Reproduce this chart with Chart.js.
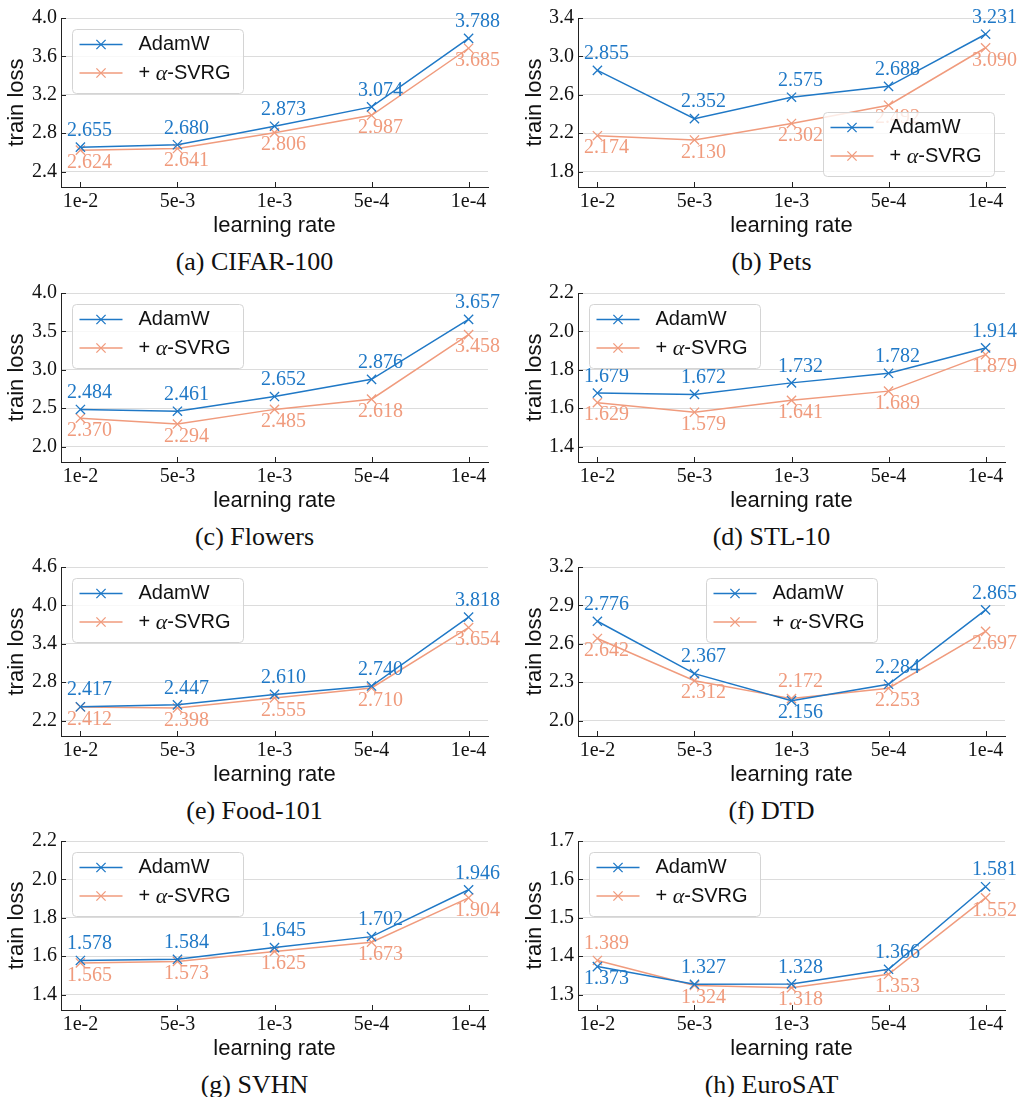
<!DOCTYPE html>
<html lang="en">
<head>
<meta charset="UTF-8">
<title>train loss vs learning rate</title>
<script src="https://cdn.jsdelivr.net/npm/chart.js@4.4.0/dist/chart.umd.min.js"></script>
<style>
  body { margin: 0; background: #fff; }
  #page { position: relative; width: 1021px; height: 1097px; overflow: hidden; }
  #page canvas { position: absolute; }
  .caption {
    position: absolute;
    transform: translate(-50%, -50%);
    font: 26px 'Liberation Serif', 'Times New Roman', serif;
    line-height: 1;
    white-space: nowrap;
    color: #111;
  }
</style>
</head>
<body>
<div id="page"></div>
<script>
const learningRates = ['1e-2', '5e-3', '1e-3', '5e-4', '1e-4'];
const seriesNames = ['AdamW', '+ α-SVRG'];

const cifar100Adamw = [2.655, 2.680, 2.873, 3.074, 3.788];
const cifar100Svrg  = [2.624, 2.641, 2.806, 2.987, 3.685];
const cifar100Ticks = [2.4, 2.8, 3.2, 3.6, 4.0];

const petsAdamw = [2.855, 2.352, 2.575, 2.688, 3.231];
const petsSvrg  = [2.174, 2.130, 2.302, 2.492, 3.090];
const petsTicks = [1.8, 2.2, 2.6, 3.0, 3.4];

const flowersAdamw = [2.484, 2.461, 2.652, 2.876, 3.657];
const flowersSvrg  = [2.370, 2.294, 2.485, 2.618, 3.458];
const flowersTicks = [2.0, 2.5, 3.0, 3.5, 4.0];

const stl10Adamw = [1.679, 1.672, 1.732, 1.782, 1.914];
const stl10Svrg  = [1.629, 1.579, 1.641, 1.689, 1.879];
const stl10Ticks = [1.4, 1.6, 1.8, 2.0, 2.2];

const food101Adamw = [2.417, 2.447, 2.610, 2.740, 3.818];
const food101Svrg  = [2.412, 2.398, 2.555, 2.710, 3.654];
const food101Ticks = [2.2, 2.8, 3.4, 4.0, 4.6];

const dtdAdamw = [2.776, 2.367, 2.156, 2.284, 2.865];
const dtdSvrg  = [2.642, 2.312, 2.172, 2.253, 2.697];
const dtdTicks = [2.0, 2.3, 2.6, 2.9, 3.2];

const svhnAdamw = [1.578, 1.584, 1.645, 1.702, 1.946];
const svhnSvrg  = [1.565, 1.573, 1.625, 1.673, 1.904];
const svhnTicks = [1.4, 1.6, 1.8, 2.0, 2.2];

const eurosatAdamw = [1.373, 1.327, 1.328, 1.366, 1.581];
const eurosatSvrg  = [1.389, 1.324, 1.318, 1.353, 1.552];
const eurosatTicks = [1.3, 1.4, 1.5, 1.6, 1.7];

const BLUE = '#1f78c6';
const ORANGE = '#f09b7d';
const SERIF = "'Liberation Serif', 'Times New Roman', serif";
const SANS = "'Liberation Sans', Arial, sans-serif";

const panels = [
  { caption: '(a) CIFAR-100', adamw: cifar100Adamw, svrg: cifar100Svrg, ticks: cifar100Ticks, min: 2.24, max: 4.0, legend: 'topleft' },
  { caption: '(b) Pets',      adamw: petsAdamw,     svrg: petsSvrg,     ticks: petsTicks,     min: 1.64, max: 3.4, legend: 'bottomright' },
  { caption: '(c) Flowers',   adamw: flowersAdamw,  svrg: flowersSvrg,  ticks: flowersTicks,  min: 1.8,  max: 4.0, legend: 'topleft' },
  { caption: '(d) STL-10',    adamw: stl10Adamw,    svrg: stl10Svrg,    ticks: stl10Ticks,    min: 1.32, max: 2.2, legend: 'topleft' },
  { caption: '(e) Food-101',  adamw: food101Adamw,  svrg: food101Svrg,  ticks: food101Ticks,  min: 1.96, max: 4.6, legend: 'topleft' },
  { caption: '(f) DTD',       adamw: dtdAdamw,      svrg: dtdSvrg,      ticks: dtdTicks,      min: 1.88, max: 3.2, legend: 'topcenter' },
  { caption: '(g) SVHN',      adamw: svhnAdamw,     svrg: svhnSvrg,     ticks: svhnTicks,     min: 1.32, max: 2.2, legend: 'topleft' },
  { caption: '(h) EuroSAT',   adamw: eurosatAdamw,  svrg: eurosatSvrg,  ticks: eurosatTicks,  min: 1.26, max: 1.7, legend: 'topleft' }
];

// grid geometry (px)
const colLeft = [0, 510];
const colWidth = [510, 511];
const yAxisWidth = [61, 68];
const padRight = [22, 16];
const yTitlePad = [3.5, 12];
const rowTop = [0, 275, 549, 823];
const CANVAS_H = 240, PLOT_TOP = 18, XAXIS_H = 53;

function drawCross(ctx, x, y, r) {
  ctx.beginPath();
  ctx.moveTo(x - r, y - r); ctx.lineTo(x + r, y + r);
  ctx.moveTo(x - r, y + r); ctx.lineTo(x + r, y - r);
  ctx.stroke();
}

function drawLegend(chart, where) {
  const ctx = chart.ctx, a = chart.chartArea;
  const W = 171, H = 64, r = 4;
  let x0 = a.left + 11, y0 = a.top + 11;
  if (where === 'bottomright') { x0 = a.right - 11 - W; y0 = a.bottom - 11 - H; }
  if (where === 'topcenter') { x0 = (a.left + a.right) / 2 - W / 2; }
  x0 = Math.round(x0) + 0.5; y0 = Math.round(y0) + 0.5;
  ctx.beginPath();
  ctx.moveTo(x0 + r, y0);
  ctx.lineTo(x0 + W - r, y0); ctx.arcTo(x0 + W, y0, x0 + W, y0 + r, r);
  ctx.lineTo(x0 + W, y0 + H - r); ctx.arcTo(x0 + W, y0 + H, x0 + W - r, y0 + H, r);
  ctx.lineTo(x0 + r, y0 + H); ctx.arcTo(x0, y0 + H, x0, y0 + H - r, r);
  ctx.lineTo(x0, y0 + r); ctx.arcTo(x0, y0, x0 + r, y0, r);
  ctx.closePath();
  ctx.fillStyle = 'rgba(255,255,255,0.8)';
  ctx.fill();
  ctx.strokeStyle = '#d4d4d4';
  ctx.lineWidth = 1;
  ctx.stroke();

  chart.data.datasets.forEach((ds, k) => {
    const cy = y0 + 15 + k * 28.5;
    ctx.strokeStyle = ds.borderColor;
    ctx.lineWidth = 1.5;
    ctx.beginPath();
    ctx.moveTo(x0 + 7, cy); ctx.lineTo(x0 + 50, cy);
    ctx.stroke();
    ctx.lineWidth = 1.3;
    drawCross(ctx, x0 + 28.5, cy, 4.6);

    ctx.fillStyle = '#111';
    ctx.textAlign = 'left';
    ctx.textBaseline = 'middle';
    let tx = x0 + 66;
    const parts = ds.label.split('α');
    ctx.font = '20px ' + SANS;
    ctx.fillText(parts[0], tx, cy);
    tx += ctx.measureText(parts[0]).width;
    if (parts.length > 1) {
      ctx.font = 'italic 22px ' + SERIF;
      ctx.fillText('α', tx, cy + 1);
      tx += ctx.measureText('α').width;
      ctx.font = '20px ' + SANS;
      ctx.fillText(parts[1], tx, cy);
    }
  });
}

const decorations = {
  id: 'decorations',
  afterDatasetsDraw(chart, args, opts) {
    const ctx = chart.ctx, a = chart.chartArea;
    const xs = chart.scales.x, ys = chart.scales.y;
    ctx.save();
    // inward tick marks
    ctx.strokeStyle = '#222';
    ctx.lineWidth = 1;
    ctx.beginPath();
    ys.ticks.forEach(t => {
      const py = Math.round(ys.getPixelForValue(t.value)) + 0.5;
      ctx.moveTo(a.left, py); ctx.lineTo(a.left + 5, py);
    });
    xs.ticks.forEach(t => {
      const px = Math.round(xs.getPixelForValue(t.value)) + 0.5;
      ctx.moveTo(px, a.bottom); ctx.lineTo(px, a.bottom - 5);
    });
    ctx.stroke();

    // value labels: higher value above its point, lower one below
    const d0 = chart.data.datasets[0], d1 = chart.data.datasets[1];
    const m0 = chart.getDatasetMeta(0), m1 = chart.getDatasetMeta(1);
    ctx.font = '20px ' + SERIF;
    ctx.textAlign = 'center';
    ctx.textBaseline = 'middle';
    const label = (el, v, color, above) => {
      ctx.fillStyle = color;
      ctx.fillText(v.toFixed(3), el.x + 9, el.y + (above ? -16.5 : 12.5));
    };
    d0.data.forEach((p, i) => {
      const v0 = p.y, v1 = d1.data[i].y;
      const up = v0 >= v1;
      label(m0.data[i], v0, d0.borderColor, up);
      label(m1.data[i], v1, d1.borderColor, !up);
    });

    drawLegend(chart, opts.where);
    ctx.restore();
  }
};

const page = document.getElementById('page');

panels.forEach((p, n) => {
  const col = n % 2, row = Math.floor(n / 2);
  const canvas = document.createElement('canvas');
  canvas.width = colWidth[col];
  canvas.height = CANVAS_H;
  canvas.style.left = colLeft[col] + 'px';
  canvas.style.top = rowTop[row] + 'px';
  page.appendChild(canvas);

  const cap = document.createElement('div');
  cap.className = 'caption';
  cap.textContent = p.caption;
  const plotLeft = colLeft[col] + yAxisWidth[col];
  const plotRight = colLeft[col] + colWidth[col] - padRight[col];
  cap.style.left = ((plotLeft + plotRight) / 2 - 20) + 'px';
  cap.style.top = (rowTop[row] + PLOT_TOP + (CANVAS_H - PLOT_TOP - XAXIS_H) + 75) + 'px';
  page.appendChild(cap);

  const toPoints = vals => vals.map((v, i) => ({ x: i, y: v }));

  new Chart(canvas.getContext('2d'), {
    type: 'line',
    data: {
      datasets: [
        { label: seriesNames[0], data: toPoints(p.adamw), borderColor: BLUE, backgroundColor: BLUE },
        { label: seriesNames[1], data: toPoints(p.svrg), borderColor: ORANGE, backgroundColor: ORANGE }
      ]
    },
    options: {
      responsive: false,
      animation: false,
      events: [],
      layout: { padding: { top: PLOT_TOP, right: padRight[col], bottom: 0, left: 0 } },
      elements: {
        line: { borderWidth: 1.5, tension: 0 },
        point: { pointStyle: 'crossRot', radius: 6.5, borderWidth: 1.3, hoverRadius: 6.5 }
      },
      scales: {
        x: {
          type: 'linear',
          min: -0.2,
          max: 4.2,
          afterBuildTicks: s => { s.ticks = learningRates.map((_, i) => ({ value: i })); },
          afterFit: s => { s.height = XAXIS_H; },
          ticks: {
            autoSkip: false, maxRotation: 0, padding: 3, color: '#111',
            font: { family: SERIF, size: 20 },
            callback: v => learningRates[v]
          },
          grid: { display: false, drawTicks: false },
          border: { display: true, color: '#222', width: 1 },
          title: {
            display: true, text: 'learning rate', color: '#111',
            font: { family: SANS, size: 22, lineHeight: 1.2 },
            padding: { top: 0, bottom: 1 }
          }
        },
        y: {
          type: 'linear',
          min: p.min,
          max: p.max,
          afterBuildTicks: s => { s.ticks = p.ticks.map(v => ({ value: v })); },
          afterFit: s => { s.width = yAxisWidth[col]; },
          ticks: {
            padding: 4, color: '#111',
            font: { family: SERIF, size: 20 },
            callback: v => v.toFixed(1)
          },
          grid: { color: '#dcdcdc', lineWidth: 1, drawTicks: false },
          border: { display: true, color: '#222', width: 1 },
          title: {
            display: true, text: 'train loss', color: '#111',
            font: { family: SANS, size: 22, lineHeight: 1.2 },
            padding: { top: yTitlePad[col], bottom: 0 }
          }
        }
      },
      plugins: {
        legend: { display: false },
        tooltip: { enabled: false },
        decorations: { where: p.legend }
      }
    },
    plugins: [decorations]
  });
});
</script>
</body>
</html>
